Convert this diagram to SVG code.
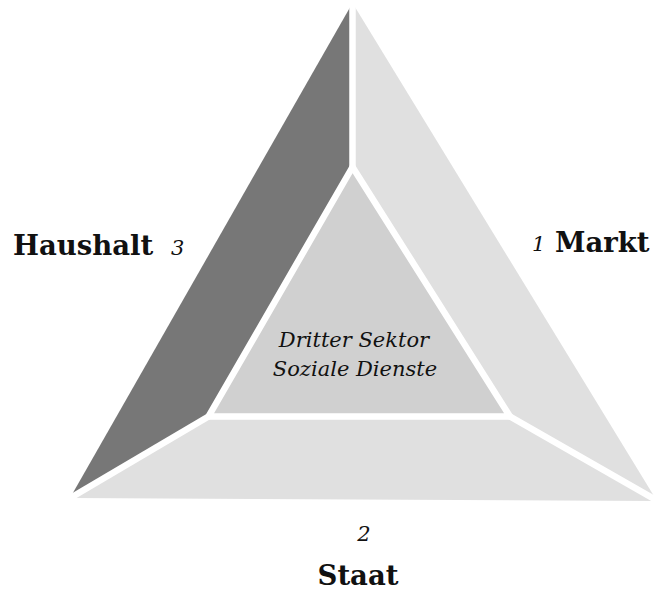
<svg xmlns="http://www.w3.org/2000/svg" width="663" height="590" viewBox="0 0 663 590">
<style>
.lbl{font-family:"DejaVu Serif","Liberation Serif",serif;font-weight:bold;font-size:27.5px;fill:#111}
.num{font-family:"DejaVu Serif","Liberation Serif",serif;font-style:italic;font-size:21px;fill:#111}
.inner{font-family:"DejaVu Serif","Liberation Serif",serif;font-style:italic;font-size:21px;fill:#111}
.sep{stroke:#fff;stroke-width:6.5;fill:none;stroke-linejoin:miter}
</style>
<rect width="663" height="590" fill="#fff"/>
<g id="haushalt">
<polygon points="352.5,3 70,498 208.5,416.5 352.5,167" fill="#777777"/>
</g>
<g id="markt">
<polygon points="352.5,3 352.5,167 510,416.5 657,501" fill="#e0e0e0"/>
</g>
<g id="staat">
<polygon points="70,498 657,501 510,416.5 208.5,416.5" fill="#e0e0e0"/>
</g>
<g id="dritter-sektor">
<polygon points="352.5,167 208.5,416.5 510,416.5" fill="#d0d0d0"/>
</g>
<g id="connectors">
<line class="sep" x1="352.5" y1="0" x2="352.5" y2="167"/>
<polygon class="sep" points="352.5,167 208.5,416.5 510,416.5"/>
<line class="sep" x1="208.5" y1="416.5" x2="66" y2="500.5"/>
<line class="sep" x1="510" y1="416.5" x2="662" y2="503.5"/>
</g>
<g id="labels">
<text class="lbl" x="13" y="255">Haushalt</text>
<text class="num" x="171" y="255">3</text>
<text class="num" x="532" y="251">1</text>
<text class="lbl" x="555" y="252">Markt</text>
<text class="num" x="364" y="541" text-anchor="middle">2</text>
<text class="lbl" x="358" y="585" text-anchor="middle">Staat</text>
<text class="inner" x="354" y="347" text-anchor="middle">Dritter Sektor</text>
<text class="inner" x="355" y="376" text-anchor="middle">Soziale Dienste</text>
</g>
</svg>
